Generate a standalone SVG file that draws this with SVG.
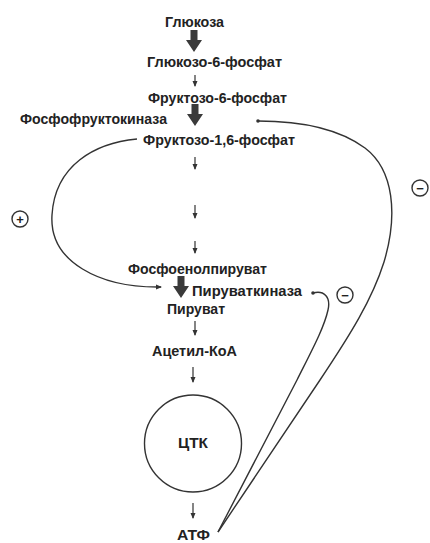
<svg xmlns="http://www.w3.org/2000/svg" width="430" height="543" viewBox="0 0 430 543">
  <defs>
    <style>
      .lbl { font-family: "Liberation Sans", Arial, sans-serif; font-size: 14px; font-weight: bold; fill: #222; }
      .sign { font-family: "Liberation Sans", Arial, sans-serif; font-size: 13px; font-weight: bold; fill: #222; text-anchor: middle; }
      .step { stroke: #333; stroke-width: 1.2; fill: none; marker-end: url(#tip); }
      .big { fill: #3a3a3a; }
      .reg { stroke: #333; stroke-width: 1.4; fill: none; }
      .ring { stroke: #333; stroke-width: 1.4; fill: none; }
    </style>
    <marker id="tip" viewBox="0 0 6 6" refX="5" refY="3" markerWidth="6" markerHeight="6" markerUnits="userSpaceOnUse" orient="auto">
      <path d="M0,0.5 L6,3 L0,5.5 Z" fill="#333"/>
    </marker>
    <marker id="act" viewBox="0 0 6 6" refX="5" refY="3" markerWidth="6" markerHeight="6" markerUnits="userSpaceOnUse" orient="auto">
      <path d="M0,0.5 L6,3 L0,5.5 Z" fill="#333"/>
    </marker>
    <!-- thick pathway arrow, origin at the tip -->
    <path id="fat" d="M-3.5,-22 L3.5,-22 L3.5,-12 L8,-12 L0,0 L-8,-12 L-3.5,-12 Z"/>
  </defs>

  <rect width="430" height="543" fill="#fff"/>

  <!-- metabolites -->
  <g id="glucose"><text class="lbl" x="165" y="27" textLength="59" lengthAdjust="spacingAndGlyphs">Глюкоза</text></g>
  <g id="g6p"><text class="lbl" x="147" y="67" textLength="135" lengthAdjust="spacingAndGlyphs">Глюкозо-6-фосфат</text></g>
  <g id="f6p"><text class="lbl" x="148" y="103" textLength="139" lengthAdjust="spacingAndGlyphs">Фруктозо-6-фосфат</text></g>
  <g id="pfk"><text class="lbl" x="20" y="124" textLength="147" lengthAdjust="spacingAndGlyphs">Фосфофруктокиназа</text></g>
  <g id="f16bp"><text class="lbl" x="143" y="145" textLength="152" lengthAdjust="spacingAndGlyphs">Фруктозо-1,6-фосфат</text></g>
  <g id="pep"><text class="lbl" x="128" y="274" textLength="139" lengthAdjust="spacingAndGlyphs">Фосфоенолпируват</text></g>
  <g id="pk"><text class="lbl" x="192" y="296" textLength="110" lengthAdjust="spacingAndGlyphs">Пируваткиназа</text></g>
  <g id="pyruvate"><text class="lbl" x="167" y="314" textLength="58" lengthAdjust="spacingAndGlyphs">Пируват</text></g>
  <g id="acetylcoa"><text class="lbl" x="152" y="356" textLength="85" lengthAdjust="spacingAndGlyphs">Ацетил-КоА</text></g>
  <g id="tca">
    <circle class="ring" cx="193" cy="443.5" r="48.5"/>
    <text class="lbl" x="178" y="448" textLength="30" lengthAdjust="spacingAndGlyphs">ЦТК</text>
  </g>
  <g id="atp"><text class="lbl" x="177" y="540" textLength="33" lengthAdjust="spacingAndGlyphs">АТФ</text></g>

  <!-- regulation signs -->
  <g id="sign-plus">
    <circle class="ring" cx="20" cy="219" r="8"/>
    <text class="sign" x="20" y="223.5">+</text>
  </g>
  <g id="sign-minus-pfk">
    <circle class="ring" cx="420" cy="188" r="8"/>
    <text class="sign" x="420" y="192.5">−</text>
  </g>
  <g id="sign-minus-pk">
    <circle class="ring" cx="345" cy="295" r="8"/>
    <text class="sign" x="345" y="299.5">−</text>
  </g>

  <!-- connectors -->
  <g id="connectors">
    <!-- irreversible steps -->
    <use href="#fat" class="big" x="194" y="52"/>
    <use href="#fat" class="big" x="195" y="126"/>
    <use href="#fat" class="big" x="181" y="298"/>

    <!-- ordinary steps -->
    <line class="step" x1="195" y1="75" x2="195" y2="86"/>
    <line class="step" x1="195" y1="157" x2="195" y2="169"/>
    <line class="step" x1="195" y1="205" x2="195" y2="218"/>
    <line class="step" x1="195" y1="241" x2="195" y2="253"/>
    <line class="step" x1="195" y1="321" x2="195" y2="335"/>
    <line class="step" x1="193" y1="367" x2="193" y2="382"/>
    <line class="step" x1="193" y1="503" x2="193" y2="518"/>

    <!-- feed-forward activation of pyruvate kinase -->
    <path class="reg" marker-end="url(#act)" d="M137,139 C95,143 55,165 52,215 C49,262 100,288 161,287"/>

    <!-- ATP inhibition of phosphofructokinase -->
    <path class="reg" d="M218,532 L320,380 C350,335 372,300 384,262 C398,215 394,170 365,148 C335,126 295,121 258,121"/>
    <circle cx="258" cy="121" r="1.8" fill="#333"/>

    <!-- ATP inhibition of pyruvate kinase -->
    <path class="reg" d="M218,532 L297,380 C312,350 324,328 328,310 C331,297 324,290 313,293"/>
    <circle cx="313" cy="293" r="1.8" fill="#333"/>
  </g>
</svg>
